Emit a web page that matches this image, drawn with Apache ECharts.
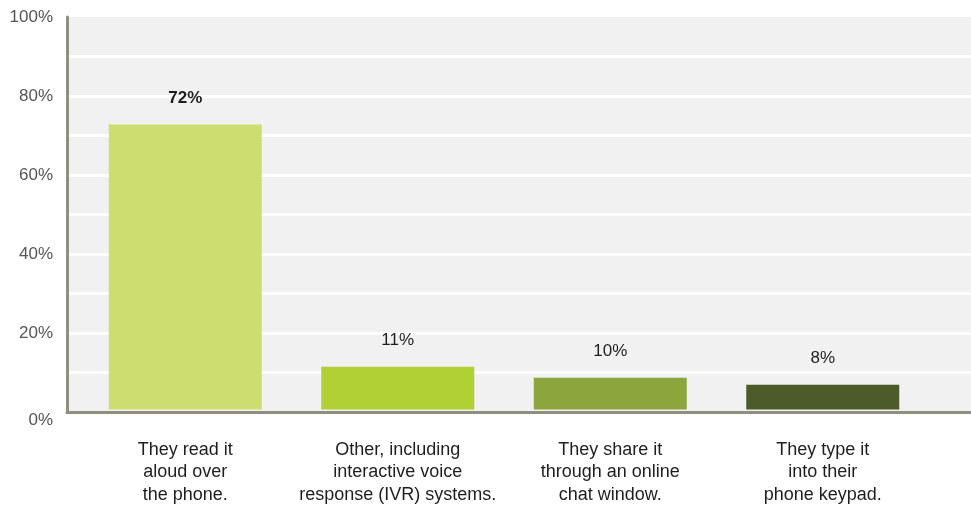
<!DOCTYPE html>
<html>
<head>
<meta charset="utf-8">
<script src="https://cdn.jsdelivr.net/npm/echarts@6/dist/echarts.min.js"></script>
<style>
  html, body { margin: 0; padding: 0; background: #fff; }
  #chart { width: 971px; height: 506px; }
</style>
</head>
<body>
<div id="chart"></div>
<script>
const categories = [
  "They read it\naloud over\nthe phone.",
  "Other, including\ninteractive voice\nresponse (IVR) systems.",
  "They share it\nthrough an online\nchat window.",
  "They type it\ninto their\nphone keypad."
];
const values = [72.6, 10.9, 8.1, 6.3];
const valueLabels = ["72%", "11%", "10%", "8%"];
const barColors = ["#cddd6f", "#b0d035", "#8ca63e", "#4b5b2a"];

const chart = echarts.init(document.getElementById("chart"));
const font = "'Liberation Sans', Arial, sans-serif";

const option = {
  animation: false,
  textStyle: { fontFamily: font },
  grid: [
    // background, gridlines and axis lines
    { left: 67, right: 0, top: 17, bottom: 94, show: true, backgroundColor: "#f0f1f0", borderWidth: 0 },
    // bars, placed inside
    { left: 79, right: 42, top: 17, bottom: 94 }
  ],
  xAxis: [
    {
      type: "category", gridIndex: 0, data: [""],
      axisLine: { show: true, lineStyle: { color: "#8e8f7e", width: 3 } },
      axisTick: { show: false }, axisLabel: { show: false }
    },
    {
      type: "category", gridIndex: 1, data: categories,
      axisLine: { show: false }, axisTick: { show: false },
      axisLabel: { color: "#1e1e1e", fontSize: 18, lineHeight: 22.5, margin: 29, interval: 0 }
    }
  ],
  yAxis: [
    {
      type: "value", gridIndex: 0, min: 0, max: 100, interval: 10,
      axisLine: { show: true, lineStyle: { color: "#8e8f7e", width: 3 } },
      axisTick: { show: false },
      splitLine: { show: true, showMaxLine: false, lineStyle: { color: "#ffffff", width: 3 } },
      axisLabel: {
        color: "#555", fontSize: 17, margin: 14,
        formatter: (v) => v % 20 === 0 ? (v === 0 ? "{z|0%}" : v + "%") : "",
        rich: { z: { fontSize: 17, color: "#555", padding: [16, 0, 0, 0] } }
      }
    },
    {
      type: "value", gridIndex: 1, min: 0, max: 100, show: false
    }
  ],
  series: [
    {
      type: "bar", xAxisIndex: 1, yAxisIndex: 1, barWidth: 153,
      data: values.map((v, i) => ({
        value: v,
        itemStyle: { color: barColors[i] },
        label: { fontWeight: i === 0 ? "bold" : "normal" }
      })),
      label: {
        show: true, position: "top", distance: 18,
        color: "#1e1e1e", fontSize: 17,
        formatter: (p) => valueLabels[p.dataIndex]
      }
    }
  ]
};

chart.setOption(option);
</script>
</body>
</html>
